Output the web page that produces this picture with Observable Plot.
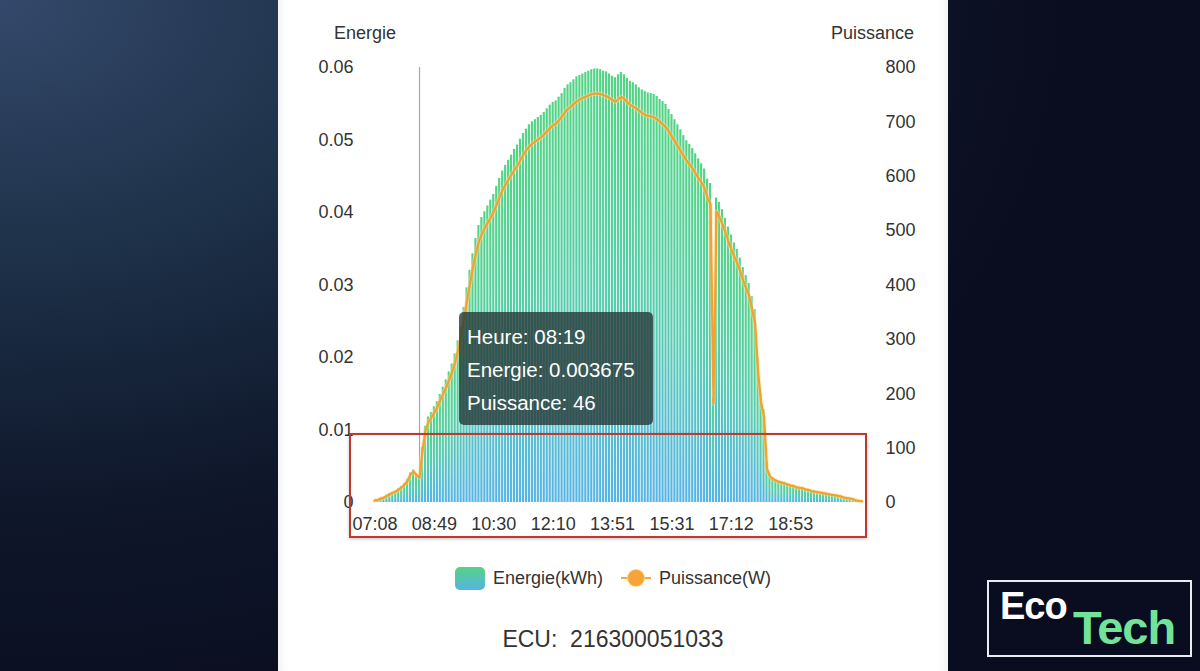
<!DOCTYPE html>
<html>
<head>
<meta charset="utf-8">
<script src="https://cdn.jsdelivr.net/npm/d3@7"></script>
<script src="https://cdn.jsdelivr.net/npm/@observablehq/plot@0.6"></script>
<style>
  html, body { margin: 0; padding: 0; }
  body {
    width: 1200px; height: 671px; overflow: hidden; position: relative;
    background: radial-gradient(ellipse 90% 110% at 0% 0%, #34496b 0%, #1d3148 35%, #0f172b 68%, #0a0d1f 100%);
    font-family: "Liberation Sans", Arial, Helvetica, sans-serif;
  }
  #card {
    position: absolute; left: 278px; top: 0; width: 670px; height: 671px;
    background: #ffffff;
    box-shadow: inset 14px 0 10px -10px rgba(0,0,0,0.05), inset -14px 0 10px -10px rgba(0,0,0,0.05);
  }
  #chart { position: absolute; left: 278px; top: 0; }
  .axttl { position: absolute; top: 23px; font-size: 18px; color: #333; }
  #tooltip {
    position: absolute; left: 459px; top: 312px; width: 194px; height: 113px;
    background: rgba(38,58,56,0.8); border-radius: 5px; color: #fff;
    font-size: 20.5px; box-sizing: border-box; padding: 8px 0 0 8px; line-height: 33px;
  }
  #redbox {
    position: absolute; left: 349px; top: 433px; width: 514px; height: 101px;
    border: 2px solid #bf3a2c; box-shadow: 0 1px 3px rgba(0,0,0,0.25);
  }
  #legend {
    position: absolute; left: 278px; width: 670px; top: 565px; height: 26px;
    display: flex; justify-content: center; align-items: center; font-size: 18px; color: #333;
  }
  .sw { width: 30px; height: 23px; border-radius: 5px; background: linear-gradient(#55d384, #57b3e4); margin-right: 8px; }
  .ln { position: relative; width: 30px; height: 23px; margin: 0 8px 0 18px; }
  .ln .bar { position: absolute; left: 0; top: 10px; width: 30px; height: 2.5px; background: #f5a63a; }
  .ln .dot { position: absolute; left: 7px; top: 3px; width: 16px; height: 16px; border-radius: 50%; background: #f5a33a; box-shadow: 0 0 0 1px #fbd27a; }
  #ecu { position: absolute; left: 278px; width: 670px; top: 626px; text-align: center; font-size: 23px; color: #333; }
  #logo {
    position: absolute; left: 987px; top: 580px; width: 205px; height: 77px; box-sizing: border-box;
    border: 2px solid #e9edf2; font-family: "Liberation Sans", Arial, sans-serif; font-weight: bold;
  }
  #logo .eco { position: absolute; left: 11px; top: 3px; color: #fff; font-size: 38px; letter-spacing: -1px; }
  #logo .tech { position: absolute; left: 84px; top: 18px; color: #74e39a; font-size: 47px; letter-spacing: -1px; }
</style>
</head>
<body>
<div id="card"></div>
<div id="chart"></div>
<div class="axttl" style="left:334px">Energie</div>
<div class="axttl" style="left:831px">Puissance</div>
<div id="tooltip"></div>
<div id="redbox"></div>
<div id="legend">
  <div class="sw"></div><span>Energie(kWh)</span>
  <div class="ln"><div class="bar"></div><div class="dot"></div></div><span>Puissance(W)</span>
</div>
<div id="ecu">ECU:&nbsp; 216300051033</div>
<div id="logo"><span class="eco">Eco</span><span class="tech">Tech</span></div>
<script>
// Power (W), one value per 5-minute sample
const power = [
  4, 5, 7, 9, 12, 15, 18, 20, 24, 28,
  33, 40, 52, 57, 50, 46, 95, 132, 148, 156,
  166, 175, 188, 200, 212, 226, 240, 258, 280, 305,
  338, 372, 402, 432, 458, 480, 494, 505, 515, 524,
  535, 548, 562, 575, 585, 594, 603, 612, 620, 630,
  640, 648, 655, 660, 664, 668, 672, 677, 683, 689,
  694, 697, 703, 710, 718, 724, 728, 733, 738, 741,
  744, 746, 749, 751, 752, 752, 751, 749, 747, 744,
  740, 737, 742, 746, 742, 736, 731, 728, 725, 720,
  716, 713, 711, 710, 708, 705, 700, 695, 690, 682,
  673, 664, 655, 646, 637, 628, 621, 614, 605, 596,
  588, 578, 560, 548, 182, 535, 525, 512, 497, 480,
  466, 452, 440, 425, 408, 394, 380, 355, 330, 240,
  185, 158, 62, 48, 43, 40, 38, 36, 35, 33,
  31, 30, 28, 27, 26, 24, 23, 21, 20, 19,
  18, 17, 16, 15, 14, 13, 12, 11, 9, 8,
  7, 6, 4, 3, 2
];
// Energy (kWh) per sample
const energy = [
  0.0003, 0.0004, 0.0006, 0.0007, 0.0010, 0.0012, 0.0014, 0.0016, 0.0019, 0.0022,
  0.0026, 0.0032, 0.0041, 0.0045, 0.0040, 0.003675, 0.0076, 0.0105, 0.0118, 0.0124,
  0.0132, 0.0139, 0.0149, 0.0159, 0.0169, 0.0180, 0.0191, 0.0205, 0.0223, 0.0242,
  0.0269, 0.0296, 0.0320, 0.0343, 0.0364, 0.0382, 0.0393, 0.0401, 0.0409, 0.0417,
  0.0425, 0.0436, 0.0447, 0.0457, 0.0465, 0.0472, 0.0479, 0.0487, 0.0493, 0.0501,
  0.0509, 0.0515, 0.0521, 0.0525, 0.0528, 0.0531, 0.0534, 0.0538, 0.0543, 0.0548,
  0.0552, 0.0554, 0.0559, 0.0564, 0.0571, 0.0576, 0.0579, 0.0583, 0.0587, 0.0589,
  0.0591, 0.0593, 0.0595, 0.0597, 0.0598, 0.0598, 0.0597, 0.0595, 0.0594, 0.0591,
  0.0588, 0.0586, 0.0590, 0.0593, 0.0590, 0.0585, 0.0581, 0.0579, 0.0576, 0.0572,
  0.0569, 0.0567, 0.0565, 0.0564, 0.0563, 0.0560, 0.0556, 0.0553, 0.0549, 0.0542,
  0.0535, 0.0528, 0.0521, 0.0514, 0.0506, 0.0499, 0.0494, 0.0488, 0.0481, 0.0474,
  0.0467, 0.0460, 0.0446, 0.0440, 0.0145, 0.0420, 0.0414, 0.0404, 0.0392, 0.0380,
  0.0369, 0.0358, 0.0349, 0.0337, 0.0324, 0.0313, 0.0302, 0.0284, 0.0266, 0.0200,
  0.0150, 0.0128, 0.0055, 0.0039, 0.0034, 0.0032, 0.0030, 0.0029, 0.0028, 0.0026,
  0.0025, 0.0024, 0.0022, 0.0021, 0.0021, 0.0019, 0.0018, 0.0017, 0.0016, 0.0015,
  0.0014, 0.0014, 0.0013, 0.0012, 0.0011, 0.0010, 0.0010, 0.0009, 0.0007, 0.0006,
  0.0006, 0.0005, 0.0003, 0.0002, 0.0002
];
// x-axis tick labels and the sample they sit under
const xTickLabels = ["07:08", "08:49", "10:30", "12:10", "13:51", "15:31", "17:12", "18:53"];
const xTickIndex = [0, 20, 40, 60, 80, 100, 120, 140];
const energyTicks = [0, 0.01, 0.02, 0.03, 0.04, 0.05, 0.06];
const powerTicks = [0, 100, 200, 300, 400, 500, 600, 700, 800];
const energyMax = 0.06;
const powerMax = 800;
// highlighted sample (tooltip)
const tooltipIndex = 15;
const tooltipTime = "08:19";

const data = energy.map((e, i) => ({i, e, p: power[i]}));
const toE = p => p * energyMax / powerMax;

const gradientDefs = () => {
  const defs = document.createElementNS("http://www.w3.org/2000/svg", "defs");
  defs.innerHTML = '<linearGradient id="barGrad" x1="0" y1="0" x2="0" y2="1">' +
    '<stop offset="0%" stop-color="#52d484"/>' +
    '<stop offset="55%" stop-color="#58ccb0"/>' +
    '<stop offset="100%" stop-color="#56b4e6"/></linearGradient>';
  return defs;
};

const chart = Plot.plot({
  width: 670,
  height: 545,
  marginLeft: 95,
  marginRight: 85,
  marginTop: 67,
  marginBottom: 43,
  style: {background: "transparent", color: "#333", fontSize: "18px", fontFamily: "'Liberation Sans', Arial, sans-serif", overflow: "visible"},
  x: {type: "band", domain: data.map(d => d.i), padding: 0, axis: null},
  y: {domain: [0, energyMax], axis: null},
  marks: [
    gradientDefs,
    Plot.barY(data, {x: "i", y: "e", fill: "url(#barGrad)", insetLeft: 0.4, insetRight: 0.4}),
    Plot.ruleX([tooltipIndex], {stroke: "#a8a8a8", strokeWidth: 1.2}),
    Plot.lineY(data, {x: "i", y: d => toE(d.p), stroke: "#fbe29a", strokeWidth: 4.5, strokeOpacity: 0.45}),
    Plot.lineY(data, {x: "i", y: d => toE(d.p), stroke: "#f2a132", strokeWidth: 2.3}),
    Plot.axisY(energyTicks, {anchor: "left", tickSize: 0, tickPadding: 20, label: null, fontSize: 18,
      tickFormat: d => d === 0 ? "0" : d.toFixed(2)}),
    Plot.axisY(powerTicks.map(toE), {anchor: "right", tickSize: 0, tickPadding: 22, label: null, fontSize: 18,
      textAnchor: "start", tickFormat: v => String(Math.round(v * powerMax / energyMax))}),
    Plot.axisX(xTickIndex, {anchor: "bottom", tickSize: 0, tickPadding: 15, label: null, fontSize: 18,
      tickFormat: d => xTickLabels[xTickIndex.indexOf(d)]})
  ]
});
document.getElementById("chart").appendChild(chart);

document.getElementById("tooltip").innerHTML =
  "Heure: " + tooltipTime + "<br>Energie: " + energy[tooltipIndex] + "<br>Puissance: " + power[tooltipIndex];
</script>
</body>
</html>
